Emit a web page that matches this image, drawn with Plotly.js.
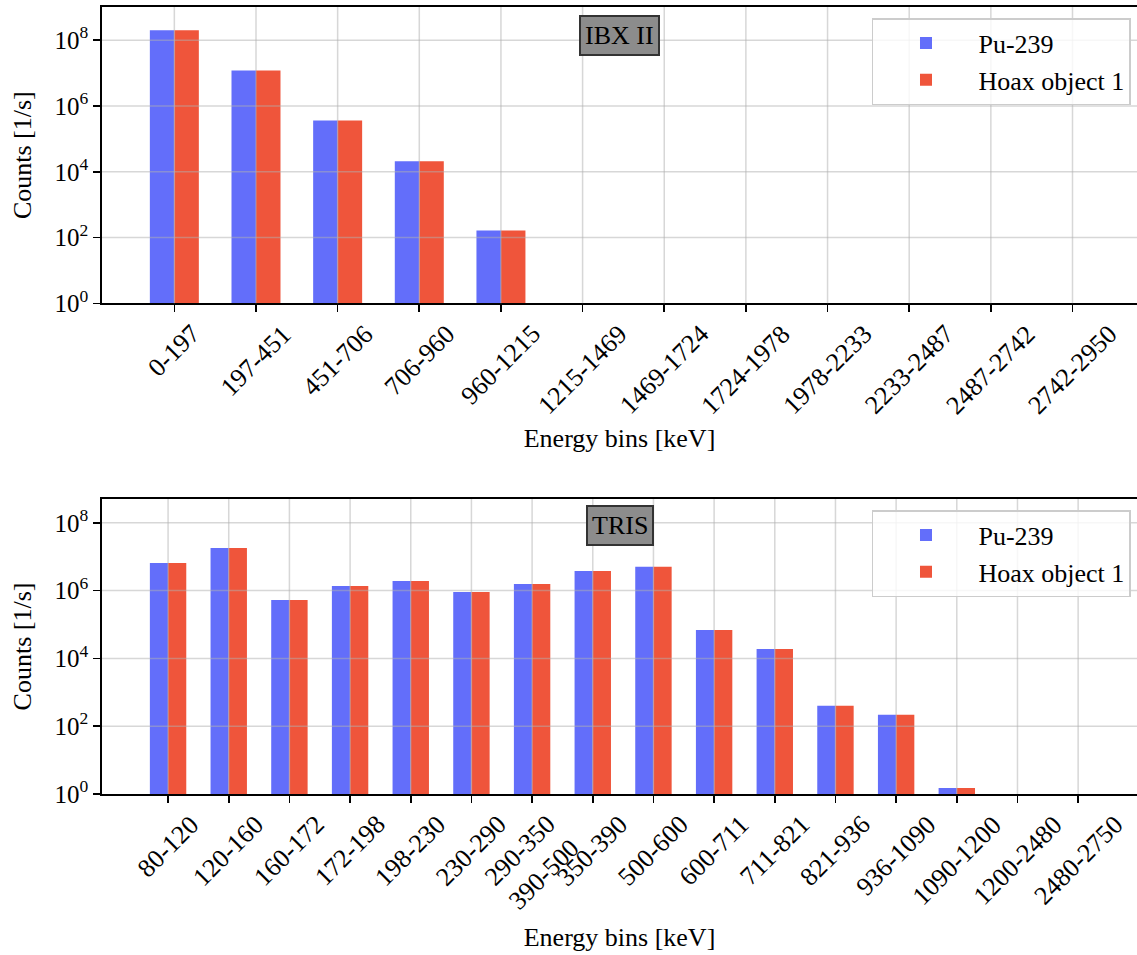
<!DOCTYPE html>
<html>
<head>
<meta charset="utf-8">
<script src="https://cdn.plot.ly/plotly-3.0.1.min.js"></script>
<style>html,body{margin:0;padding:0;background:#fff;}</style>
</head>
<body>
<div id="chart" style="width:1137px;height:955px;"></div>
<script>
// ---- data ----
const ibxCategories = ["0-197","197-451","451-706","706-960","960-1215","1215-1469","1469-1724","1724-1978","1978-2233","2233-2487","2487-2742","2742-2950"];
const ibxPu239 = [2.0e8, 1.2e7, 3.6e5, 2.1e4, 165, 0, 0, 0, 0, 0, 0, 0];
const ibxHoax1 = [2.0e8, 1.2e7, 3.6e5, 2.1e4, 165, 0, 0, 0, 0, 0, 0, 0];

const trisCategories = ["80-120","120-160","160-172","172-198","198-230","230-290","290-350<br>390-500","350-390","500-600","600-711","711-821","821-936","936-1090","1090-1200","1200-2480","2480-2750"];
const trisPu239 = [6.5e6, 1.8e7, 5.3e5, 1.37e6, 1.9e6, 9.1e5, 1.56e6, 3.8e6, 5.0e6, 6.9e4, 1.9e4, 400, 217, 1.5, 0, 0];
const trisHoax1 = [6.5e6, 1.8e7, 5.3e5, 1.37e6, 1.9e6, 9.1e5, 1.56e6, 3.8e6, 5.0e6, 6.9e4, 1.9e4, 400, 217, 1.5, 0, 0];

const seriesNames = ["Pu-239", "Hoax object 1"];
const yTickVals = [1, 1e2, 1e4, 1e6, 1e8];
const yTickText = ["10<sup>0</sup>", "10<sup>2</sup>", "10<sup>4</sup>", "10<sup>6</sup>", "10<sup>8</sup>"];
const panelLabels = ["IBX II", "TRIS"];
const xTitle = "Energy bins [keV]";
const yTitle = "Counts [1/s]";

// ---- styles ----
const FONT = "Liberation Serif, Times New Roman, serif";
const BLUE = "#636efa", RED = "#ef553b";
const GRID = "rgba(176,176,176,0.5)";
const FS = 26;

const traces = [
  {type:"bar", name:seriesNames[0], x:ibxCategories, y:ibxPu239, xaxis:"x", yaxis:"y", marker:{color:BLUE, line:{width:0}}, legend:"legend"},
  {type:"bar", name:seriesNames[1], x:ibxCategories, y:ibxHoax1, xaxis:"x", yaxis:"y", marker:{color:RED, line:{width:0}}, legend:"legend"},
  {type:"bar", name:seriesNames[0], x:trisCategories, y:trisPu239, xaxis:"x2", yaxis:"y2", marker:{color:BLUE, line:{width:0}}, legend:"legend2"},
  {type:"bar", name:seriesNames[1], x:trisCategories, y:trisHoax1, xaxis:"x2", yaxis:"y2", marker:{color:RED, line:{width:0}}, legend:"legend2"}
];

function xAxis(anchor, range, standoff){
  return {
    anchor:anchor, type:"category", range:range, domain:[0,1],
    showgrid:false, zeroline:false,
    ticks:"outside", ticklen:7, tickwidth:1.6, tickcolor:"#000",
    showticklabels:false,
    showline:true, linecolor:"#000", linewidth:1.8, mirror:true,
    title:{text:xTitle, standoff:standoff, font:{family:FONT, size:FS, color:"#000"}}
  };
}
function yAxis(anchor, domain, range){
  return {
    anchor:anchor, type:"log", range:range, domain:domain,
    tickvals:yTickVals, ticktext:yTickText,
    showgrid:false, zeroline:false,
    ticks:"outside", ticklen:7, tickwidth:1.6, tickcolor:"#000",
    tickfont:{family:FONT, size:25, color:"#000"},
    showline:true, linecolor:"#000", linewidth:1.8, mirror:false,
    title:{text:yTitle, standoff:15, font:{family:FONT, size:FS, color:"#000"}}
  };
}

function gridShapes(cats, xa, ya){
  const s = [];
  cats.forEach((c, i) => s.push({type:"line", layer:"above", xref:xa, yref:ya+" domain", x0:i, x1:i, y0:0, y1:1, line:{color:GRID, width:1.5}}));
  yTickVals.slice(1).forEach(v => s.push({type:"line", layer:"above", xref:xa+" domain", yref:ya, x0:0, x1:1, y0:v, y1:v, line:{color:GRID, width:1.5}}));
  return s;
}
function tickLabelAnns(cats, xa, ya){
  return cats.map((c, i) => ({
    xref:xa, yref:ya+" domain", x:i, y:0, xanchor:"center", yanchor:"top", yshift:-13,
    textangle:-45, text:c, showarrow:false, align:"center",
    font:{family:FONT, size:FS, color:"#000"}
  }));
}
function panelAnn(text, xa, ya, y){
  return {xref:xa+" domain", yref:ya+" domain", x:0.5, y:y, xanchor:"center", yanchor:"middle",
    text:text, showarrow:false, bgcolor:"#8c8c8c", bordercolor:"#333333", borderwidth:2, borderpad:4,
    font:{family:FONT, size:FS, color:"#000"}};
}

const legendStyle = (y) => ({
  x:0.9942, xanchor:"right", y:y, yanchor:"top",
  bgcolor:"rgba(255,255,255,0.8)", bordercolor:"#cccccc", borderwidth:1.5,
  font:{family:FONT, size:FS, color:"#000"}, itemwidth:95
});

const layout = {
  width:1137, height:955,
  margin:{l:102, r:0, t:7, b:161},
  paper_bgcolor:"#fff", plot_bgcolor:"#fff",
  font:{family:FONT, size:FS, color:"#000"},
  barmode:"group", bargap:0.4, bargroupgap:0,
  xaxis: xAxis("y", [-0.886, 11.79], 118),
  yaxis: yAxis("x", [0.6235, 1], [0, 9.01]),
  xaxis2: xAxis("y2", [-1.089, 15.97], 126),
  yaxis2: yAxis("x2", [0, 0.3748], [0, 8.70]),
  legend: legendStyle(0.986),
  legend2: legendStyle(0.3608),
  shapes: gridShapes(ibxCategories, "x", "y").concat(gridShapes(trisCategories, "x2", "y2")),
  annotations: tickLabelAnns(ibxCategories, "x", "y")
    .concat(tickLabelAnns(trisCategories, "x2", "y2"))
    .concat([panelAnn(panelLabels[0], "x", "y", 0.905), panelAnn(panelLabels[1], "x2", "y2", 0.91)]),
  showlegend:true
};

Plotly.newPlot("chart", traces, layout, {displayModeBar:false, staticPlot:true});
</script>
</body>
</html>
